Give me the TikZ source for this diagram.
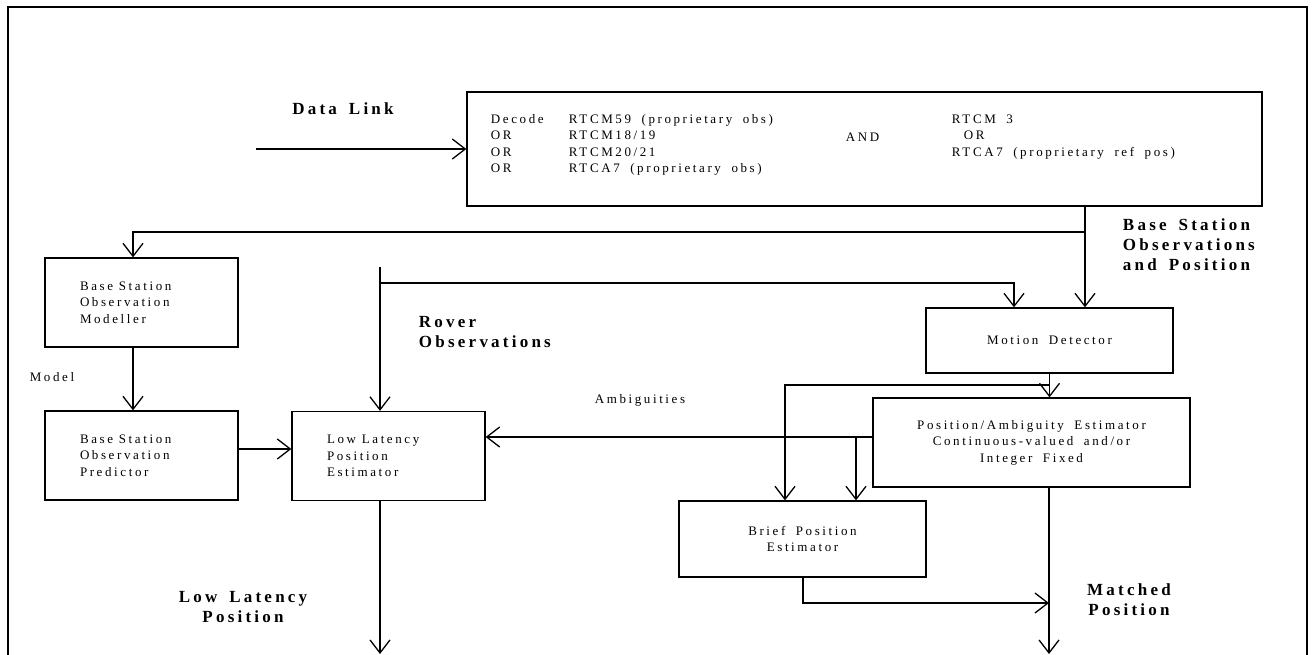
\documentclass[tikz,border=0pt]{standalone}
\usepackage{fontspec}
\setmainfont{Liberation Serif}
\newfontfamily\boxfont[LetterSpace=20,WordSpace=1.8]{Liberation Serif}
\newfontfamily\lblfont[LetterSpace=19,WordSpace=1.6]{Liberation Serif}
\usetikzlibrary{arrows.meta}
\tikzset{>={Straight Barb[length=13pt,width=20pt]}}
\tikzset{
  blk/.style={draw, line width=1.3pt, inner sep=0pt},
  txt/.style={font=\boxfont\fontsize{13}{16.5}\selectfont},
  lbl/.style={font=\lblfont\fontsize{17}{20}\selectfont\bfseries},
  lbox/.style={blk, txt, align=left, text width=123pt, inner xsep=35pt, minimum height=89pt,
    execute at begin node={\spaceskip=0.45em\relax}},
  cbox/.style={blk, txt, align=center}
}

\begin{document}
\begin{tikzpicture}[x=1pt, y=-1pt, line width=1.3pt]
    \useasboundingbox (0,0) rectangle (1312,654);
    \clip (0,0) rectangle (1312,654);
    \draw (8,680) -- (8,7) -- (1307,7) -- (1307,680);

    \node[blk, minimum width=795pt, minimum height=114pt] (dec) at (864.5,149) {};
    \node[txt, anchor=west, align=left] (decl) at (487,145) {\makebox[78pt][l]{Decode}RTCM59 (proprietary obs)\\ \makebox[78pt][l]{OR}RTCM18/19\\ \makebox[78pt][l]{OR}RTCM20/21\\ \makebox[78pt][l]{OR}RTCA7 (proprietary obs)};
    \node[txt, anchor=west] (and) at (842,137) {AND};
    \node[txt, anchor=west, align=left] (decr) at (948,137) {RTCM 3\\ \hspace*{12pt}OR\\ RTCA7 (proprietary ref pos)};
    \coordinate (dlin) at (256,149);
    \draw[->] (dlin) -- (dec.west);
    \node[lbl] (dlink) at (343,109) {Data Link};

    \node[lbox] (bsom) at (141.5,302.5) {Base Station\\ Observation\\ Modeller};
    \node[lbox] (bsop) at (141.5,455.5) {Base Station\\ Observation\\ Predictor};
    \node[lbox] (llpe) at (388.5,456) {Low Latency\\ Position\\ Estimator};
    \node[cbox, minimum width=247pt, minimum height=65pt] (md) at (1049.5,340.5) {Motion Detector};
    \node[cbox, minimum width=317pt, minimum height=89pt] (pae) at (1031.5,442.5) {Position/Ambiguity Estimator\\ Continuous-valued and/or\\ Integer Fixed};
    \node[cbox, minimum width=247pt, minimum height=76pt] (bpe) at (802.5,539) {Brief Position\\ Estimator};

    \coordinate (bus) at (1085,232);
    \coordinate (modx) at (133,0);
    \draw (dec.south -| bus) -- (bus);
    \draw[->] (bus) -- (md.north -| bus);
    \draw[->] (bus) -| (bsom.north -| modx);
    \node[lbl, align=left, anchor=west] (bslbl) at (1119,245) {Base Station\\ Observations\\ and Position};

    \draw[->] (bsom.south -| modx) -- (bsop.north -| modx);
    \node[txt] (model) at (52,377) {Model};
    \coordinate (bsy) at (0,449);
    \draw[->] (bsop.east |- bsy) -- (llpe.west |- bsy);

    \coordinate (rov) at (380,267);
    \coordinate (rovj) at (380,283);
    \coordinate (mdl) at (1014,0);
    \draw[->] (rov) -- (llpe.north -| rov);
    \draw[->] (rovj) -| (md.north -| mdl);
    \node[lbl, align=left, anchor=west] (rovlbl) at (415,332) {Rover\\ Observations};

    \draw[->] (md.south) -- (pae.north -| md.south);
    \coordinate (mdj) at (1049,385);
    \coordinate (bpl) at (785,0);
    \draw[->] (mdj) -| (bpe.north -| bpl);

    \coordinate (amb) at (0,437);
    \coordinate (bpr) at (856,437);
    \draw[->] (pae.west |- amb) -- (llpe.east |- amb);
    \draw[->] (bpr) -- (bpe.north -| bpr);
    \node[txt] (amblbl) at (640,400) {Ambiguities};

    \coordinate (llout) at (380,654);
    \coordinate (mout) at (1049,654);
    \coordinate (bpo) at (803,0);
    \coordinate (bpj) at (1049,603);
    \draw[->] (llpe.south -| llout) -- (llout);
    \draw[->] (pae.south -| mout) -- (mout);
    \draw[->] (bpe.south -| bpo) |- (bpj);
    \node[lbl, align=center] (lllbl) at (243,607) {Low Latency\\ Position};
    \node[lbl, align=center] (mplbl) at (1129,600) {Matched\\ Position};
\end{tikzpicture}
\end{document}
